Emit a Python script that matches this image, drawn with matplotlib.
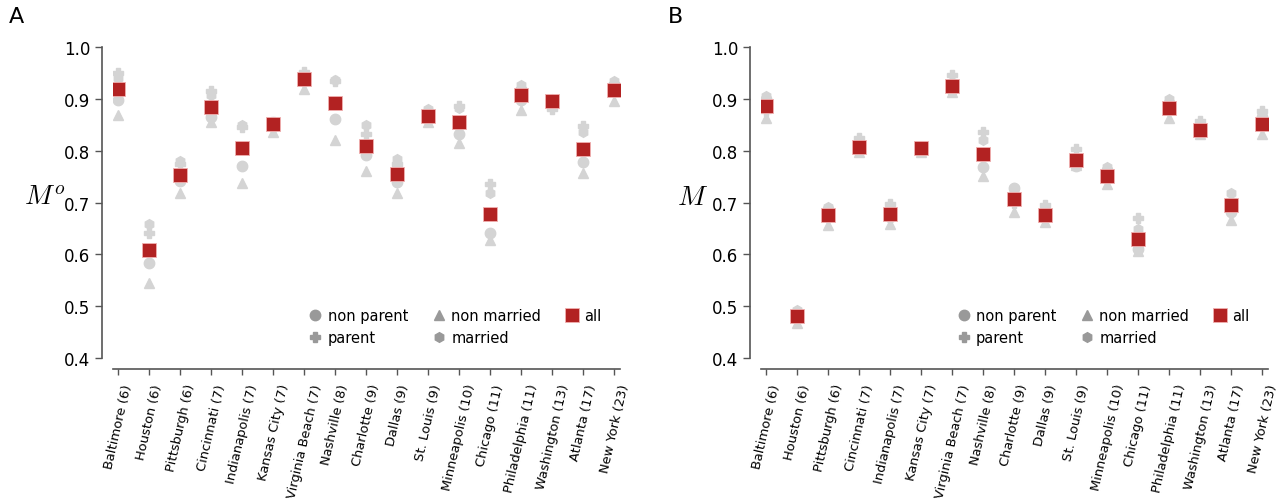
import matplotlib
matplotlib.use("Agg")
import matplotlib.pyplot as plt
from matplotlib.lines import Line2D
import numpy as np

plt.rcParams['mathtext.fontset'] = 'cm'

cities = ["Baltimore (6)", "Houston (6)", "Pittsburgh (6)", "Cincinnati (7)",
          "Indianapolis (7)", "Kansas City (7)", "Virginia Beach (7)", "Nashville (8)",
          "Charlotte (9)", "Dallas (9)", "St. Louis (9)", "Minneapolis (10)",
          "Chicago (11)", "Philadelphia (11)", "Washington (13)", "Atlanta (17)",
          "New York (23)"]

# panel A (M^o)
all_A = [0.920, 0.608, 0.753, 0.885, 0.806, 0.852, 0.938, 0.893, 0.810, 0.756,
         0.867, 0.855, 0.677, 0.908, 0.897, 0.804, 0.918]
nonparent_A = [0.898, 0.584, 0.742, 0.866, 0.771, 0.848, 0.935, 0.861, 0.792, 0.740,
               0.862, 0.832, 0.642, 0.898, 0.895, 0.779, 0.915]
parent_A = [0.951, 0.641, 0.775, 0.916, 0.845, 0.855, 0.953, 0.935, 0.833, 0.774,
            0.877, 0.887, 0.736, 0.920, 0.880, 0.848, 0.928]
nonmarried_A = [0.869, 0.544, 0.718, 0.855, 0.737, 0.837, 0.920, 0.820, 0.761, 0.718,
                0.855, 0.815, 0.627, 0.878, 0.890, 0.757, 0.896]
married_A = [0.941, 0.659, 0.780, 0.907, 0.849, 0.856, 0.945, 0.936, 0.849, 0.785,
             0.880, 0.882, 0.719, 0.927, 0.900, 0.837, 0.934]

# panel B (M)
all_B = [0.887, 0.481, 0.676, 0.807, 0.678, 0.805, 0.925, 0.793, 0.707, 0.676,
         0.783, 0.752, 0.629, 0.883, 0.841, 0.696, 0.851]
nonparent_B = [0.900, 0.488, 0.688, 0.800, 0.672, 0.800, 0.918, 0.768, 0.729, 0.670,
               0.770, 0.762, 0.610, 0.893, 0.836, 0.682, 0.865]
parent_B = [0.876, 0.478, 0.672, 0.824, 0.698, 0.808, 0.946, 0.836, 0.700, 0.696,
            0.803, 0.748, 0.670, 0.880, 0.857, 0.705, 0.877]
nonmarried_B = [0.864, 0.467, 0.656, 0.797, 0.659, 0.798, 0.913, 0.752, 0.681, 0.662,
                0.772, 0.735, 0.606, 0.864, 0.832, 0.667, 0.832]
married_B = [0.906, 0.493, 0.692, 0.812, 0.685, 0.806, 0.932, 0.821, 0.729, 0.684,
             0.778, 0.769, 0.648, 0.899, 0.846, 0.718, 0.868]

light = "#d4d4d4"
dark = "#999999"
red = "#b22222"

fig = plt.figure(figsize=(12.76, 5.02), dpi=100)
axA = fig.add_axes([0.0886, 0.285, 0.397, 0.619])
axB = fig.add_axes([0.5965, 0.285, 0.397, 0.619])


def draw_panel(ax, allv, npar, par, nmar, mar, ylabel, letter, letter_x):
    # spines first: moving a spine resets the ticks
    for s in ["top", "right"]:
        ax.spines[s].set_visible(False)
    ax.spines["left"].set_position(("outward", 8))
    ax.spines["bottom"].set_position(("outward", 8))
    for s in ["left", "bottom"]:
        ax.spines[s].set_color("#555555")
        ax.spines[s].set_linewidth(1.2)

    x = np.arange(len(cities))
    ax.plot(x, nmar, ls="none", marker="^", ms=7, color=light)
    ax.plot(x, npar, ls="none", marker="o", ms=7.5, color=light)
    ax.plot(x, mar, ls="none", marker="h", ms=7, color=light)
    ax.plot(x, par, ls="none", marker="P", ms=7.5, color=light)
    ax.plot(x, allv, ls="none", marker="s", ms=10.5, color=red,
            markeredgecolor="#f0b0b0", markeredgewidth=0.6)

    ax.tick_params(axis="y", labelsize=12, length=5, width=1, color="#555555")
    ax.tick_params(axis="x", length=4, width=1, pad=5.5, color="#555555")
    ax.set_xlim(-0.17, 16.17)
    ax.set_ylim(0.4, 1.0)
    ax.set_yticks([0.4, 0.5, 0.6, 0.7, 0.8, 0.9, 1.0])
    ax.set_xticks(x)
    ax.set_xticklabels(cities, fontsize=9.4, rotation=77, ha="center", va="top")

    ax.set_ylabel(ylabel, rotation=0, fontsize=20, va="center")
    ax.yaxis.set_label_coords(-0.135, 0.52)

    ax.text(letter_x, 1.1, letter, transform=ax.transAxes, fontsize=16, va="center")

    handles = [
        Line2D([], [], ls="none", marker="o", ms=7.5, color=dark, label="non parent"),
        Line2D([], [], ls="none", marker="P", ms=7.5, color=dark, label="parent"),
        Line2D([], [], ls="none", marker="^", ms=7.5, color=dark, label="non married"),
        Line2D([], [], ls="none", marker="h", ms=7, color=dark, label="married"),
        Line2D([], [], ls="none", marker="s", ms=10.5, color=red,
               markeredgecolor="#f0b0b0", markeredgewidth=0.6, label="all"),
    ]
    ax.legend(handles=handles, ncol=3, frameon=False, fontsize=10.5,
              loc="lower right", bbox_to_anchor=(0.99, 0.0),
              handletextpad=0.25, columnspacing=1.5, labelspacing=0.48,
              handlelength=1.2)


draw_panel(axA, all_A, nonparent_A, parent_A, nonmarried_A, married_A, "$M^o$", "A", -0.205)
draw_panel(axB, all_B, nonparent_B, parent_B, nonmarried_B, married_B, "$M$", "B", -0.185)

fig.savefig("out.png", dpi=100)
